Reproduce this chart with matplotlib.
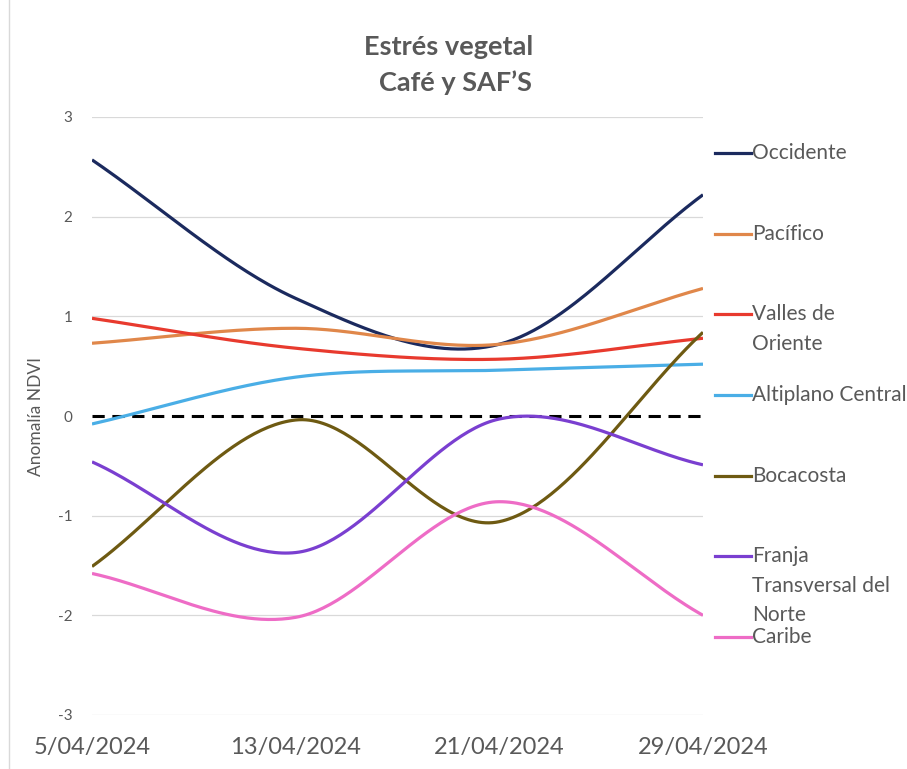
import matplotlib
matplotlib.use("Agg")
import matplotlib.pyplot as plt
import matplotlib.dates as mdates
from matplotlib.lines import Line2D
import numpy as np
import pandas as pd

plt.rcParams["axes.unicode_minus"] = False

fechas = ["2024-04-05", "2024-04-13", "2024-04-21", "2024-04-29"]
etiquetas_x = ["5/04/2024", "13/04/2024", "21/04/2024", "29/04/2024"]

regiones = ["Occidente", "Pacífico", "Valles de\nOriente", "Altiplano Central",
            "Bocacosta", "Franja\nTransversal del\nNorte", "Caribe"]
occidente = [2.57, 1.18, 0.72, 2.22]
pacifico = [0.73, 0.88, 0.72, 1.28]
valles = [0.98, 0.68, 0.57, 0.78]
altiplano = [-0.08, 0.39, 0.46, 0.52]
bocacosta = [-1.51, -0.04, -1.06, 0.84]
franja = [-0.46, -1.37, -0.03, -0.49]
caribe = [-1.58, -2.02, -0.86, -2.00]

series = [occidente, pacifico, valles, altiplano, bocacosta, franja, caribe]
colores = ["#1B2A5E", "#E0874A", "#E83A2E", "#4AAEE6", "#6E5A12", "#7A3FD0", "#EE6CC6"]

gris = "#595959"
W, H = 907, 769


def suave(xs, ys, n=60):
    # linea suavizada tipo Excel (Catmull-Rom)
    xs = np.asarray(xs, float)
    ys = np.asarray(ys, float)
    k = len(ys)
    out_x, out_y = [], []
    t = np.linspace(0, 1, n)
    h00 = 2 * t**3 - 3 * t**2 + 1
    h10 = t**3 - 2 * t**2 + t
    h01 = -2 * t**3 + 3 * t**2
    h11 = t**3 - t**2
    for i in range(k - 1):
        m1 = (ys[i + 1] - ys[i - 1]) / 2 if i > 0 else ys[i + 1] - ys[i]
        m2 = (ys[i + 2] - ys[i]) / 2 if i + 2 < k else ys[i + 1] - ys[i]
        out_y.append(h00 * ys[i] + h10 * m1 + h01 * ys[i + 1] + h11 * m2)
        out_x.append(xs[i] + t * (xs[i + 1] - xs[i]))
    return np.concatenate(out_x), np.concatenate(out_y)


x = mdates.date2num(pd.to_datetime(fechas))

fig = plt.figure(figsize=(W / 100, H / 100), dpi=100)
ax = fig.add_axes([92 / W, 1 - 715 / H, (703 - 92) / W, (715 - 117) / H])

for v in range(-3, 4):
    if v != 0:
        ax.axhline(v, color="#D9D9D9", lw=0.9, zorder=1)
ax.axhline(0, color="black", lw=2.2, ls=(0, (4, 2.5)), zorder=2)

for ys, c in zip(series, colores):
    sx, sy = suave(x, ys)
    ax.plot(sx, sy, color=c, lw=2.3, solid_capstyle="butt", zorder=3)

ax.set_xlim(x[0], x[-1])
ax.set_ylim(-3, 3)
ax.set_yticks(range(-3, 4))
ax.set_xticks(x)
ax.set_xticklabels(etiquetas_x, fontsize=17, color=gris, family="Lato")
for s in ax.spines.values():
    s.set_visible(False)
ax.tick_params(axis="both", length=0)
ax.tick_params(axis="y", labelsize=11, labelcolor=gris, pad=14)
ax.tick_params(axis="x", pad=16)
for lbl in ax.get_yticklabels():
    lbl.set_family("Lato")
ax.set_ylabel("Anomalía NDVI", fontsize=12.5, color=gris, family="Lato", labelpad=10)

fig.text(449 / W, 1 - 47 / H, "Estrés vegetal", ha="center", va="center",
         fontsize=19.5, fontweight="bold", color=gris, family="Lato")
fig.text(455 / W, 1 - 83 / H, "Café y SAF’S", ha="center", va="center",
         fontsize=19.5, fontweight="bold", color=gris, family="Lato")

# leyenda a la derecha
ley_y = [153, 234, 314, 395, 476, 556, 637]
for nombre, c, yp in zip(regiones, colores, ley_y):
    fig.add_artist(Line2D([715 / W, 751 / W], [1 - yp / H] * 2, color=c, lw=2.3,
                          transform=fig.transFigure))
    for j, linea in enumerate(nombre.split("\n")):
        fig.text(752 / W, 1 - (yp + 29.5 * j) / H, linea, ha="left", va="center",
                 fontsize=15, color=gris, family="Lato")

# borde del area del grafico
fig.add_artist(Line2D([9 / W, 9 / W], [0, 1], color="#D9D9D9", lw=1,
                      transform=fig.transFigure))

fig.savefig("out.png", dpi=100)
